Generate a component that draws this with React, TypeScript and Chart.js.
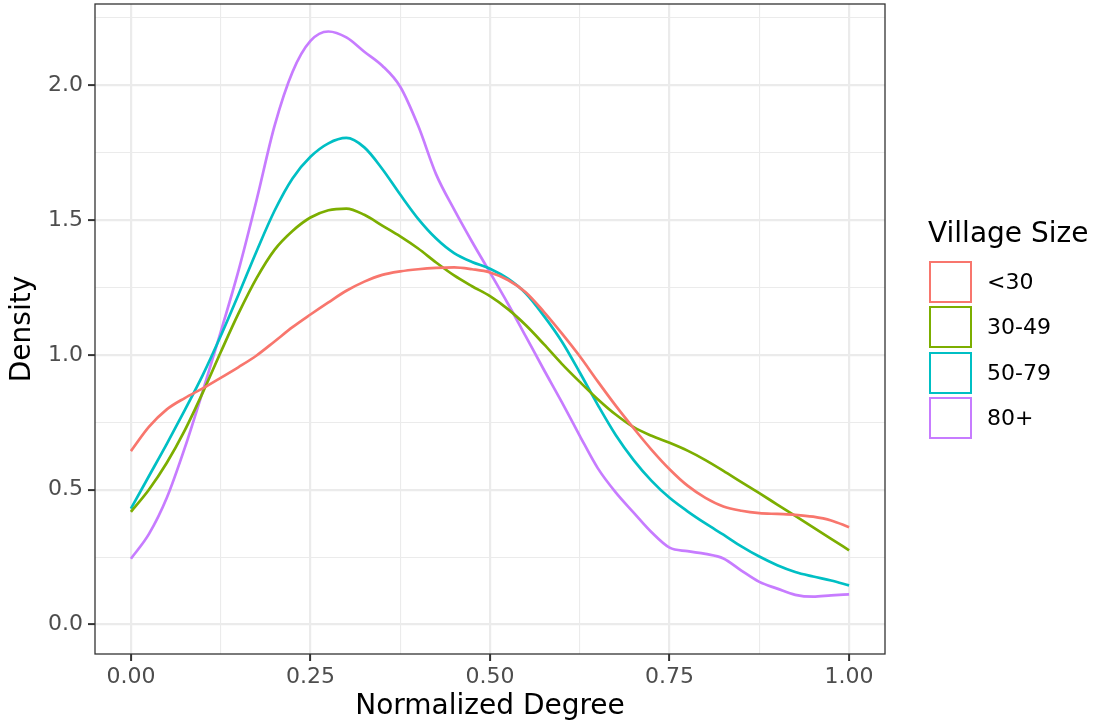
import React, { useEffect, useRef } from "react";
import { Chart, registerables } from "chart.js";

Chart.register(...registerables);

const xValues = [
  0, 0.025, 0.05, 0.075, 0.1, 0.125, 0.15, 0.175, 0.2, 0.225, 0.25, 0.275, 0.3, 0.325, 0.35, 0.375, 0.4,
  0.425, 0.45, 0.475, 0.5, 0.525, 0.55, 0.575, 0.6, 0.625, 0.65, 0.675, 0.7, 0.725, 0.75, 0.775, 0.8,
  0.825, 0.85, 0.875, 0.9, 0.925, 0.95, 0.975, 1,
];

const seriesLabels = ["<30", "30-49", "50-79", "80+"];
const seriesColors = ["#F8766D", "#7CAE00", "#00BFC4", "#C77CFF"];

const densityUnder30 = [
  0.643, 0.733, 0.798, 0.84, 0.876, 0.915, 0.955, 0.998, 1.05, 1.103, 1.15, 1.195, 1.238, 1.272, 1.297, 1.31,
  1.318, 1.323, 1.325, 1.318, 1.306, 1.278, 1.232, 1.16, 1.08, 0.995, 0.902, 0.812, 0.728, 0.648, 0.576, 0.515,
  0.47, 0.438, 0.422, 0.413, 0.41, 0.407, 0.4, 0.386, 0.361,
];

const density30to49 = [
  0.418, 0.5, 0.6, 0.72, 0.86, 1.01, 1.155, 1.285, 1.39, 1.46, 1.51, 1.537, 1.543, 1.52, 1.48, 1.44,
  1.395, 1.343, 1.295, 1.255, 1.218, 1.17, 1.11, 1.04, 0.967, 0.9, 0.836, 0.779, 0.732, 0.7, 0.674, 0.645,
  0.61, 0.57, 0.528, 0.487, 0.445, 0.403, 0.36, 0.318, 0.275,
];

const density50to79 = [
  0.43, 0.55, 0.67, 0.795, 0.925, 1.07, 1.225, 1.385, 1.535, 1.655, 1.735, 1.785, 1.805, 1.77, 1.69, 1.595,
  1.505, 1.432, 1.378, 1.345, 1.32, 1.283, 1.228, 1.145, 1.05, 0.935, 0.815, 0.703, 0.61, 0.533, 0.47, 0.42,
  0.375, 0.333, 0.29, 0.252, 0.22, 0.195, 0.178, 0.163, 0.145,
];

const density80plus = [
  0.244, 0.335, 0.47, 0.655, 0.865, 1.085, 1.315, 1.575, 1.85, 2.05, 2.165, 2.2, 2.178, 2.125, 2.073, 1.995,
  1.85, 1.67, 1.54, 1.42, 1.306, 1.19, 1.068, 0.945, 0.825, 0.7, 0.58, 0.49, 0.415, 0.342, 0.285, 0.272,
  0.262, 0.245, 0.2, 0.158, 0.133, 0.11, 0.103, 0.108, 0.112,
];

const seriesValues = [densityUnder30, density30to49, density50to79, density80plus];

const xMajorTicks = [0, 0.25, 0.5, 0.75, 1];
const xMinorTicks = [0.125, 0.375, 0.625, 0.875];
const xTickLabels = ["0.00", "0.25", "0.50", "0.75", "1.00"];
const yMajorTicks = [0, 0.5, 1, 1.5, 2];
const yMinorTicks = [0.25, 0.75, 1.25, 1.75, 2.25];
const yTickLabels = ["0.0", "0.5", "1.0", "1.5", "2.0"];

const FONT = "'DejaVu Sans', 'Liberation Sans', sans-serif";

const panelBorder = {
  id: "panelBorder",
  afterDatasetsDraw(chart: any) {
    const { ctx, chartArea } = chart;
    ctx.save();
    ctx.strokeStyle = "#333333";
    ctx.lineWidth = 1.3;
    ctx.strokeRect(chartArea.left, chartArea.top, chartArea.right - chartArea.left, chartArea.bottom - chartArea.top);
    ctx.restore();
  },
};

function makeGrid(major: number[]) {
  const isMajor = (c: any) => c && c.tick && major.includes(c.tick.value);
  return {
    color: "#EBEBEB",
    lineWidth: (c: any) => (isMajor(c) ? 2.2 : 1.1),
    drawTicks: true,
    tickLength: 7,
    tickWidth: 2,
    tickColor: (c: any) => (isMajor(c) ? "#333333" : "rgba(0,0,0,0)"),
  };
}

export default function App() {
  const canvasRef = useRef<HTMLCanvasElement | null>(null);

  useEffect(() => {
    document.body.style.margin = "0";
    const canvas = canvasRef.current;
    if (!canvas) return;
    const chart = new Chart(canvas, {
      type: "line",
      data: {
        datasets: seriesLabels.map((label, i) => ({
          label,
          data: xValues.map((x, j) => ({ x, y: seriesValues[i][j] })),
          borderColor: seriesColors[i],
          backgroundColor: seriesColors[i],
          borderWidth: 2.7,
          pointRadius: 0,
          fill: false,
          cubicInterpolationMode: "monotone" as const,
        })),
      },
      options: {
        responsive: false,
        animation: false,
        layout: { padding: { left: 0, top: 4, right: 212, bottom: 0 } },
        plugins: { legend: { display: false }, tooltip: { enabled: false } },
        scales: {
          x: {
            type: "linear",
            min: -0.05,
            max: 1.05,
            afterBuildTicks: (scale: any) => {
              scale.ticks = [...xMajorTicks, ...xMinorTicks].sort((a, b) => a - b).map((value) => ({ value }));
            },
            afterFit: (scale: any) => {
              scale.height = 74;
              scale.paddingLeft = 0;
              scale.paddingRight = 0;
            },
            grid: makeGrid(xMajorTicks),
            border: { display: false },
            ticks: {
              autoSkip: false,
              maxRotation: 0,
              padding: 3,
              color: "#4D4D4D",
              font: { family: FONT, size: 22 },
              callback: (value: any) => {
                const i = xMajorTicks.indexOf(Number(value));
                return i >= 0 ? xTickLabels[i] : "";
              },
            },
            title: {
              display: true,
              text: "Normalized Degree",
              color: "#000000",
              font: { family: FONT, size: 28 },
              padding: { top: 0, bottom: 4 },
            },
          },
          y: {
            type: "linear",
            min: -0.1095,
            max: 2.302,
            afterBuildTicks: (scale: any) => {
              scale.ticks = [...yMajorTicks, ...yMinorTicks].sort((a, b) => a - b).map((value) => ({ value }));
            },
            afterFit: (scale: any) => {
              scale.width = 95;
              scale.paddingTop = 0;
              scale.paddingBottom = 0;
            },
            grid: makeGrid(yMajorTicks),
            border: { display: false },
            ticks: {
              autoSkip: false,
              padding: 5,
              color: "#4D4D4D",
              font: { family: FONT, size: 22 },
              callback: (value: any) => {
                const i = yMajorTicks.indexOf(Number(value));
                return i >= 0 ? yTickLabels[i] : "";
              },
            },
            title: {
              display: true,
              text: "Density",
              color: "#000000",
              font: { family: FONT, size: 28 },
              padding: { top: 6, bottom: 0 },
            },
          },
        },
      },
      plugins: [panelBorder],
    });
    return () => chart.destroy();
  }, []);

  return (
    <div style={{ position: "relative", width: 1097, height: 728, background: "#FFFFFF", fontFamily: FONT }}>
      <canvas ref={canvasRef} width={1097} height={728} style={{ display: "block" }} />
      <div
        style={{
          position: "absolute",
          left: 928,
          top: 219,
          fontSize: 28,
          lineHeight: "28px",
          color: "#000000",
          whiteSpace: "nowrap",
        }}
      >
        Village Size
      </div>
      {seriesLabels.map((label, i) => {
        const top = 261 + i * 45.3;
        return (
          <React.Fragment key={label}>
            <div
              style={{
                position: "absolute",
                left: 929,
                top,
                width: 43,
                height: 42,
                boxSizing: "border-box",
                border: `2.5px solid ${seriesColors[i]}`,
                background: "#FFFFFF",
              }}
            />
            <div
              style={{
                position: "absolute",
                left: 987,
                top: top + 21 - 11,
                fontSize: 22,
                lineHeight: "22px",
                color: "#000000",
                whiteSpace: "nowrap",
              }}
            >
              {label}
            </div>
          </React.Fragment>
        );
      })}
    </div>
  );
}
